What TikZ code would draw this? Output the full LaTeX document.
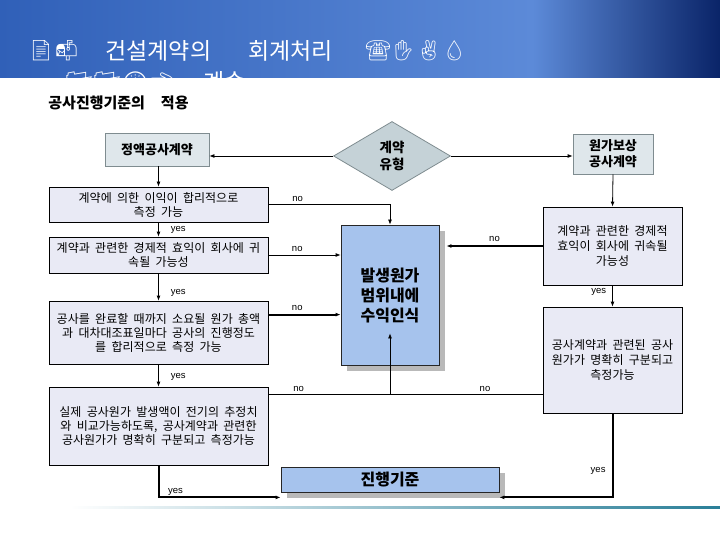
\documentclass[tikz,border=0pt]{standalone}
\usepackage{fontspec}
\setmainfont[WordSpace=2]{Noto Sans CJK KR}
\newfontfamily\latinfont{Liberation Sans}
\newfontfamily\emojifont{Noto Emoji}
\usetikzlibrary{shapes.geometric,shadows,arrows.meta}

\definecolor{bandleft}{HTML}{3060B8}
\definecolor{bandmid}{HTML}{5C8AD8}
\definecolor{bandright}{HTML}{0A2468}
\definecolor{kindfill}{HTML}{DFE7EB}
\definecolor{kindline}{HTML}{7F8C90}
\definecolor{diamondfill}{HTML}{C5D2D7}
\definecolor{condfill}{HTML}{E9EAF5}
\definecolor{resultfill}{HTML}{A6C3ED}
\definecolor{shadowgray}{HTML}{B9B9B9}
\definecolor{footline}{HTML}{2A7F98}
\pgfdeclarehorizontalshading{titleband}{100bp}{color(0bp)=(bandleft); color(25bp)=(bandleft); color(62bp)=(bandmid); color(75bp)=(bandright); color(100bp)=(bandright)}

\begin{document}
\begin{tikzpicture}[x=1pt, y=-1pt, line width=0.8pt,
  every node/.style={inner sep=0pt},
  lbl/.style={font=\latinfont\fontsize{9.5}{11}\selectfont},
  kind/.style={draw=kindline, fill=kindfill, align=center, font=\bfseries\fontsize{13}{16}\selectfont},
  cond/.style={draw, fill=condfill, align=center, font=\fontsize{12}{14}\selectfont},
  result/.style={draw=black!85, fill=resultfill, align=center,
    drop shadow={shadow xshift=6pt, shadow yshift=-6pt, fill=shadowgray, opacity=1},
    font=\bfseries\fontsize{16}{20}\selectfont},
  flow/.style={-{Latex[length=5pt,width=4pt]}},
  heavy/.style={flow, line width=2pt}]
  \useasboundingbox (0,0) rectangle (720,540);

  \shade[shading=titleband] (0,0) rectangle (720,78);
  \begin{scope}
    \clip (0,0) rectangle (720,78);
    \node[anchor=west, text=white, font=\emojifont\fontsize{20}{20}\selectfont] (head1a) at (28,51) {📄📬};
    \node[anchor=west, text=white, font=\fontsize{23}{23}\selectfont] (head1b) at (105,51) {건설계약의};
    \node[anchor=west, text=white, font=\fontsize{23}{23}\selectfont] (head1c) at (248,51) {회계처리};
    \node[anchor=west, text=white, font=\emojifont\fontsize{20}{20}\selectfont] (head1d) at (365,51) {☎✋✌💧};
    \node[anchor=base west, text depth=0pt, text=white, font=\emojifont\fontsize{22}{22}\selectfont] (head2a) at (65,91) {📂📂🕒👈};
    \node[anchor=base west, text depth=0pt, text=white, font=\fontsize{23}{23}\selectfont] (head2b) at (203,91) {계속};
  \end{scope}

  \node[anchor=west, font=\bfseries\fontsize{15}{15}\selectfont] (title) at (48,103) {공사진행기준의\hspace{16pt}적용};

  \node[kind, minimum width=104pt, minimum height=33pt] (fixed) at (157,149.5) {정액공사계약};
  \node[diamond, draw=kindline, fill=diamondfill, minimum width=117pt, minimum height=69pt, align=center, font=\bfseries\fontsize{13.5}{17}\selectfont] (ctype) at (392,156) {계약\\유형};
  \node[kind, minimum width=80pt, minimum height=40pt] (costplus) at (613,154) {원가보상\\공사계약};

  \node[cond, minimum width=219pt, minimum height=35pt] (c1) at (158.5,204.5) {계약에 의한 이익이 합리적으로\\측정 가능};
  \node[cond, minimum width=219pt, minimum height=36pt] (c2) at (158.5,255) {계약과 관련한 경제적 효익이 회사에 귀\\속될 가능성};
  \node[cond, minimum width=219pt, minimum height=63pt] (c3) at (158.5,332.5) {공사를 완료할 때까지 소요될 원가 총액\\과 대차대조표일마다 공사의 진행정도\\를 합리적으로 측정 가능};
  \node[cond, minimum width=219pt, minimum height=78pt] (c4) at (158.5,426) {실제 공사원가 발생액이 전기의 추정치\\와 비교가능하도록, 공사계약과 관련한\\공사원가가 명확히 구분되고 측정가능};

  \node[cond, minimum width=139pt, minimum height=78pt, font=\fontsize{12}{15}\selectfont] (r1) at (612.5,246) {계약과 관련한 경제적\\효익이 회사에 귀속될\\가능성};
  \node[cond, minimum width=139pt, minimum height=106pt, font=\fontsize{12}{15}\selectfont] (r2) at (612.5,360) {공사계약과 관련된 공사\\원가가 명확히 구분되고\\측정가능};

  \node[result, minimum width=98pt, minimum height=140pt] (recog) at (390,295) {발생원가\\범위내에\\수익인식};
  \node[result, minimum width=218pt, minimum height=25pt] (pct) at (390,479.5) {진행기준};

  \draw[flow] (ctype.west) -- (ctype.west -| fixed.east);
  \draw[flow] (ctype.east) -- (ctype.east -| costplus.west);
  \draw[flow] (fixed.south -| c1.north) -- (c1.north);
  \draw[flow] (c1.south) -- (c2.north) node[lbl, pos=0.5, right=12pt] (yes1) {yes};
  \draw[flow] (c2.south) -- (c3.north) node[lbl, pos=0.7, right=12pt] (yes2) {yes};
  \draw[flow] (c3.south) -- (c4.north) node[lbl, pos=0.55, right=12pt] (yes3) {yes};
  \draw[heavy] (c4.south) |- ([yshift=-5pt]pct.south west) node[lbl, pos=0.57, above=1pt] (yes4) {yes};

  \draw[flow] (costplus.south) -- (r1.north);
  \draw[flow] (r1.south) -- (r2.north) node[lbl, pos=0.3, left=6pt] (yes5) {yes};
  \draw[heavy] (r2.south) |- ([yshift=-5pt]pct.south east) node[lbl, pos=0.34, left=6pt] (yes6) {yes};
  \draw[heavy] (r1.west) -- ([xshift=7pt]recog.east |- r1.west) node[lbl, pos=0.5, above=3pt] (no6) {no};

  \draw[flow] (c1.east) -| (recog.north) node[lbl, pos=0.12, above=3pt] (no1) {no};
  \draw[flow] (c2.east) -- (c2.east -| recog.west) node[lbl, pos=0.4, above=3pt] (no2) {no};
  \coordinate (c3out) at ([yshift=-14pt]c3.north east);
  \draw[heavy] (c3out) -- (c3out -| recog.west) node[lbl, pos=0.4, above=3pt] (no3) {no};
  \coordinate (c4out) at ([yshift=-8pt]c4.north east);
  \coordinate (recogin) at ([yshift=32pt]recog.south);
  \draw (c4out) -- (c4out -| r2.west) node[lbl, pos=0.11, above=3pt] (no4) {no} node[lbl, pos=0.79, above=3pt] (no5) {no};
  \draw[flow] (c4out -| recogin) -- (recogin);

  \shade[left color=white, right color=footline] (70,506.5) rectangle (720,508);
\end{tikzpicture}
\end{document}
